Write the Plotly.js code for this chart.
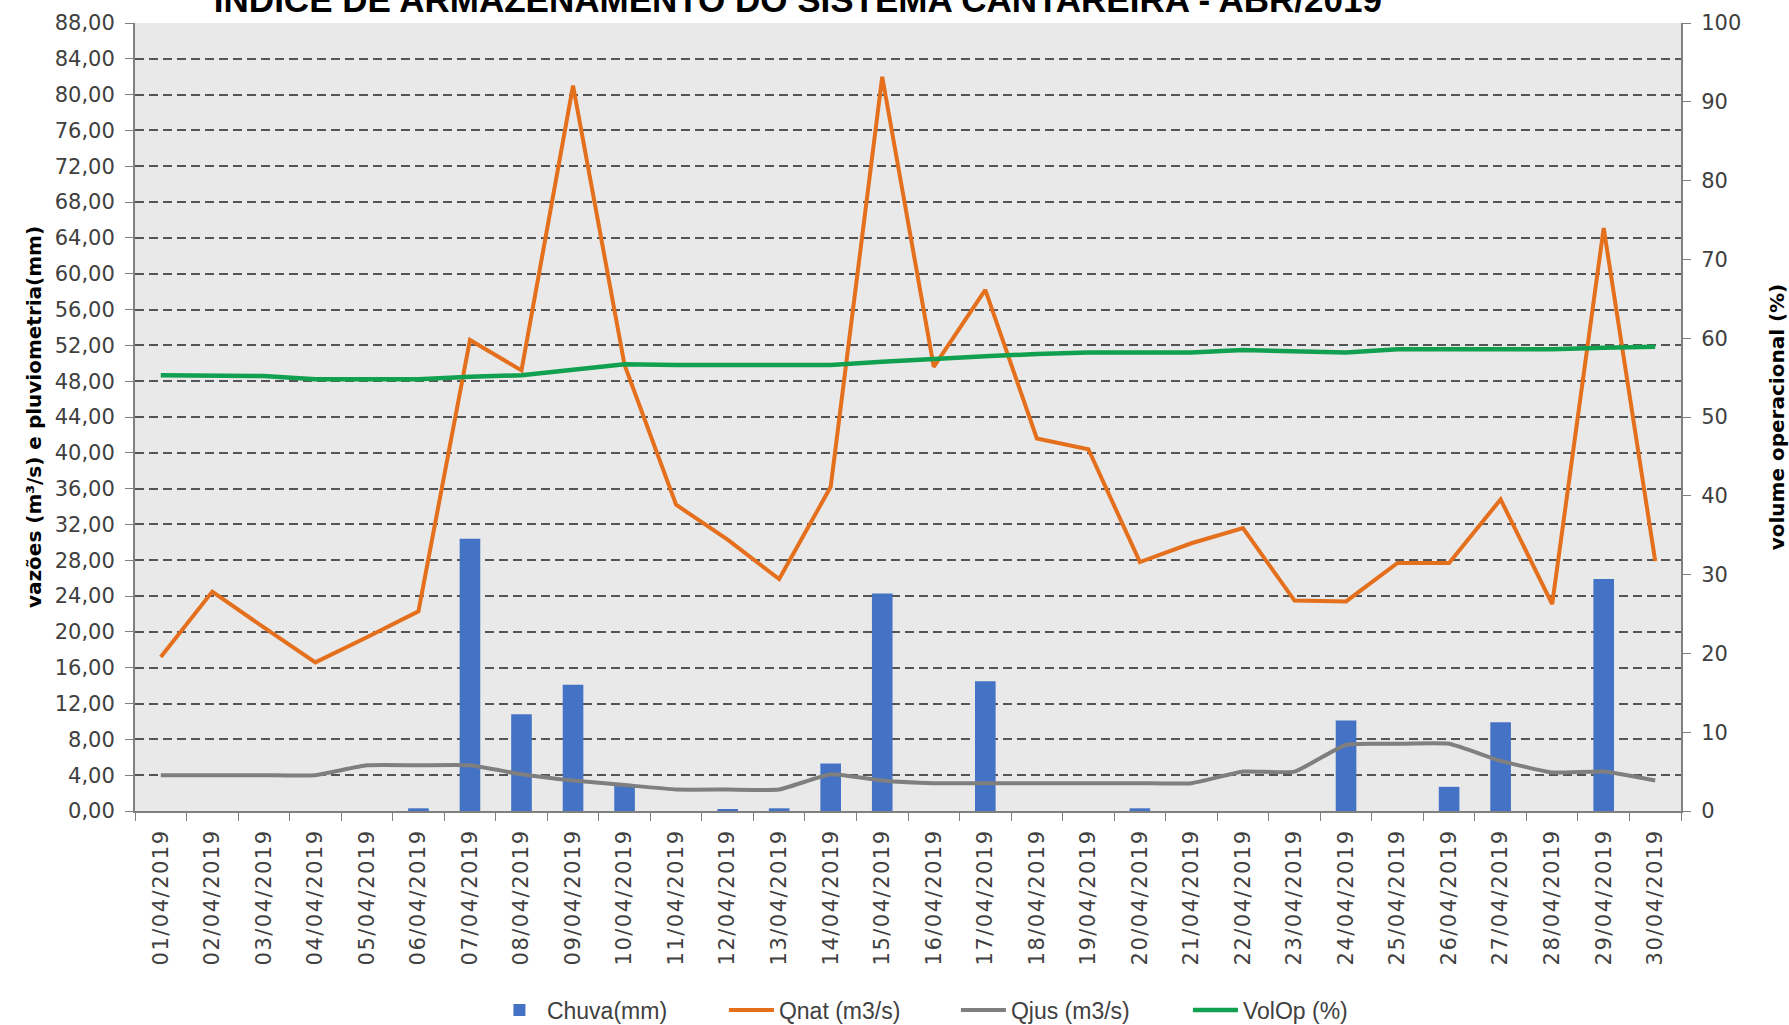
<!DOCTYPE html>
<html lang="pt">
<head>
    <meta charset="utf-8">
    <script src="https://cdn.plot.ly/plotly-3.0.1.min.js"></script>
    <title>Sistema Cantareira - ABR/2019</title>
    <style>
        body { margin: 0; background: #fff; }
        #divChart { width: 1789px; height: 1025px; }
        /* rótulos do eixo x mais espaçados, como no Excel */
        .xtick text { letter-spacing: 1.5px; }
    </style>
</head>
<body>
<div id="divChart"></div>
<script>
    // dias do mês (rótulos do eixo x)
    var dias = ['01/04/2019', '02/04/2019', '03/04/2019', '04/04/2019', '05/04/2019', '06/04/2019',
                '07/04/2019', '08/04/2019', '09/04/2019', '10/04/2019', '11/04/2019', '12/04/2019',
                '13/04/2019', '14/04/2019', '15/04/2019', '16/04/2019', '17/04/2019', '18/04/2019',
                '19/04/2019', '20/04/2019', '21/04/2019', '22/04/2019', '23/04/2019', '24/04/2019',
                '25/04/2019', '26/04/2019', '27/04/2019', '28/04/2019', '29/04/2019', '30/04/2019'];

    var chuva = [0, 0, 0, 0, 0, 0.3, 30.4, 10.8, 14.1, 3.0, 0, 0.2, 0.3, 5.3, 24.3,
                 0, 14.5, 0, 0, 0.3, 0, 0, 0, 10.1, 0, 2.7, 9.9, 0, 25.9, 0];

    var qnat = [17.2, 24.5, 20.5, 16.6, 19.4, 22.3, 52.6, 49.2, 81.0, 49.8, 34.2, 30.3, 25.9, 36.2, 82.0,
                49.6, 58.2, 41.6, 40.4, 27.8, 29.9, 31.6, 23.5, 23.4, 27.7, 27.7, 34.8, 23.1, 65.1, 27.9];

    var qjus = [4.0, 4.0, 4.0, 4.0, 5.1, 5.1, 5.1, 4.1, 3.4, 2.9, 2.4, 2.4, 2.4, 4.1, 3.4,
                3.1, 3.1, 3.1, 3.1, 3.1, 3.1, 4.4, 4.4, 7.4, 7.5, 7.5, 5.6, 4.3, 4.4, 3.4];

    var volOp = [55.3, 55.3, 55.2, 54.8, 54.8, 54.8, 55.1, 55.3, 56.0, 56.7, 56.6, 56.6, 56.6, 56.6, 57.0,
                 57.4, 57.7, 58.0, 58.2, 58.2, 58.2, 58.5, 58.4, 58.2, 58.6, 58.6, 58.6, 58.6, 58.8, 58.9];

    // rótulos do eixo esquerdo com vírgula decimal
    var ticksEsq = [0, 4, 8, 12, 16, 20, 24, 28, 32, 36, 40, 44, 48, 52, 56, 60, 64, 68, 72, 76, 80, 84, 88];
    var textoEsq = ticksEsq.map(function (v) { return v.toFixed(2).replace('.', ','); });

    var fonteTick = {family: 'DejaVu Sans', size: 21, color: '#404040'};
    var fonteTitulo = {family: 'DejaVu Sans', size: 20, color: '#000000'};

    var trace1 = {
        type: 'bar',
        name: 'Chuva(mm)',
        x: dias,
        y: chuva,
        width: 0.4,
        marker: {color: '#4472c4'}
    };
    var trace2 = {
        type: 'scatter',
        mode: 'lines',
        name: 'Qnat (m3/s)',
        x: dias,
        y: qnat,
        line: {color: '#e46f1c', width: 4}
    };
    var trace3 = {
        type: 'scatter',
        mode: 'lines',
        name: 'Qjus (m3/s)',
        x: dias,
        y: qjus,
        line: {color: '#7f7f7f', width: 4, shape: 'spline', smoothing: 0.4}
    };
    var trace4 = {
        type: 'scatter',
        mode: 'lines',
        name: 'VolOp (%)',
        x: dias,
        y: volOp,
        yaxis: 'y2',
        line: {color: '#10a050', width: 4.5}
    };

    var data = [trace1, trace2, trace3, trace4];

    var layout = {
        width: 1789,
        height: 1025,
        paper_bgcolor: '#ffffff',
        plot_bgcolor: '#e9e9e9',
        margin: {l: 135, r: 108, t: 23, b: 214},
        showlegend: true,
        title: {
            text: '<b>ÍNDICE DE ARMAZENAMENTO DO SISTEMA CANTAREIRA - ABR/2019</b>',
            font: {family: 'Liberation Sans', size: 35, color: '#000000'},
            x: 0.446, xref: 'container', xanchor: 'center',
            y: 1.0, yref: 'container', yanchor: 'middle',
            automargin: false
        },
        xaxis: {
            type: 'category',
            range: [-0.5, 29.5],
            automargin: false,
            tickangle: -90,
            tickfont: fonteTick,
            ticks: 'outside',
            tickson: 'boundaries',
            ticklen: 8,
            tickcolor: '#808080',
            ticklabelstandoff: 8,
            showline: true,
            linecolor: '#808080',
            linewidth: 2,
            showgrid: false,
            fixedrange: true
        },
        yaxis: {
            title: {text: '<b>vazões (m³/s) e pluviometria(mm)</b>', font: fonteTitulo, standoff: 8},
            automargin: false,
            range: [0, 88],
            tickvals: ticksEsq,
            ticktext: textoEsq,
            tickfont: fonteTick,
            ticks: 'outside',
            ticklen: 8,
            tickcolor: '#808080',
            ticklabelstandoff: 6,
            showline: true,
            linecolor: '#808080',
            linewidth: 2,
            showgrid: true,
            gridcolor: '#555555',
            griddash: '9px,5px',
            gridwidth: 2,
            zeroline: false
        },
        yaxis2: {
            title: {text: '<b>volume operacional (%)</b>', font: fonteTitulo, standoff: 30},
            automargin: false,
            overlaying: 'y',
            side: 'right',
            range: [0, 100],
            dtick: 10,
            tickfont: fonteTick,
            ticks: 'outside',
            ticklen: 8,
            tickcolor: '#808080',
            ticklabelstandoff: 6,
            showline: true,
            linecolor: '#808080',
            linewidth: 2,
            showgrid: false,
            zeroline: false
        },
        legend: {
            orientation: 'h',
            x: 0.531, xanchor: 'center',
            yref: 'container',
            y: 0.0146, yanchor: 'middle',
            font: {family: 'Liberation Sans', size: 23, color: '#404040'},
            itemwidth: 45,
            entrywidth: 172,
            entrywidthmode: 'pixels',
            tracegroupgap: 0
        }
    };

    var config = {responsive: false, displayModeBar: false};
    Plotly.newPlot('divChart', data, layout, config);
</script>
</body>
</html>
